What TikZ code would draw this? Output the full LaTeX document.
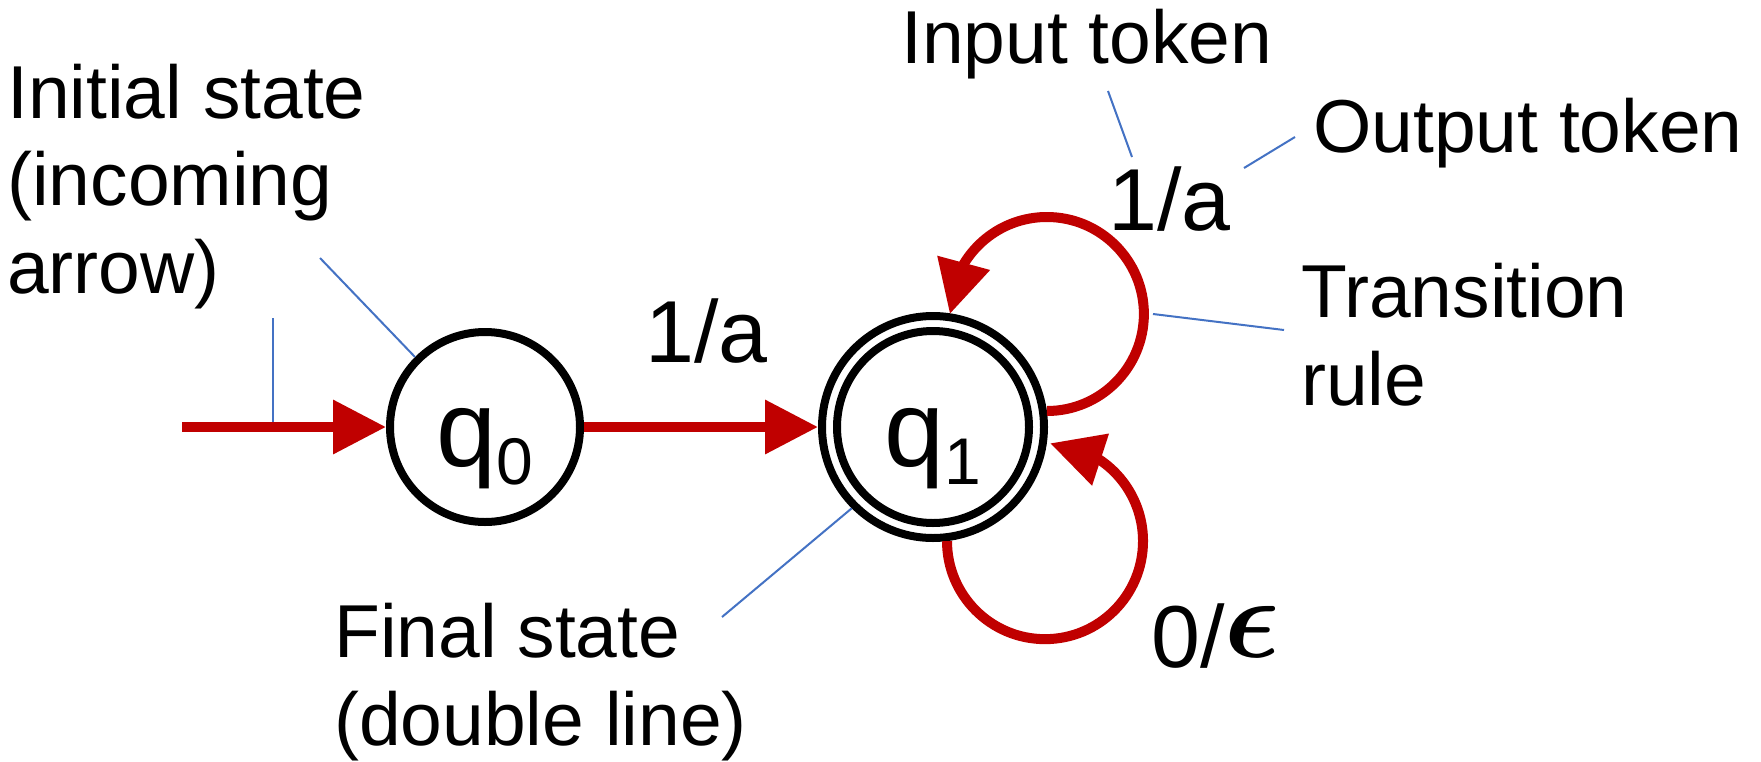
\documentclass[tikz,border=0pt]{standalone}
\usepackage{fontspec}
\usepackage{bm}
\setmainfont{Liberation Sans}
\usetikzlibrary{arrows.meta,bending}
\definecolor{arrowred}{RGB}{192,0,0}
\definecolor{calloutblue}{RGB}{68,114,196}

\begin{document}
\begin{tikzpicture}[x=1pt, y=-1pt,
  state/.style={circle, draw=black, line width=8pt, inner sep=0pt, outer sep=4pt,
    font=\fontsize{108}{108}\selectfont, text height=78pt, text depth=0pt},
  redarrow/.style={draw=arrowred, line width=10pt,
    -{Triangle[length=53pt, width=52pt, flex]}},
  callout/.style={draw=calloutblue, line width=2pt},
  note/.style={font=\fontsize{75}{87.5}\selectfont, align=left, anchor=base west, inner sep=0pt},
  rulelabel/.style={font=\fontsize{88}{100}\selectfont, anchor=base west, inner sep=0pt},
]
\fill[white] (0,0) rectangle (1761,761);
\useasboundingbox (0,0) rectangle (1761,761);

% callout leader lines
\coordinate (initArrowTop) at (273,318);
\coordinate (initArrowFoot) at (273,422);
\coordinate (initStateTop) at (320,258);
\coordinate (inTop) at (1108,91);
\coordinate (inFoot) at (1132,157);
\coordinate (outA) at (1244,168);
\coordinate (outB) at (1295,137);
\coordinate (transA) at (1153,314);
\coordinate (transB) at (1284,330);
\coordinate (finalA) at (722,617);

% states
\node[state, minimum size=190pt] (q0) at (485,427)
  {q\raisebox{-18pt}{\fontsize{66}{66}\selectfont 0}};
\node[state, minimum size=222pt] (q1) at (933,427)
  {q\raisebox{-18pt}{\fontsize{66}{66}\selectfont 1}};
\draw[line width=8pt] (q1.center) circle[radius=96pt];

\draw[callout] (initArrowTop) -- (initArrowFoot);
\draw[callout] (initStateTop) -- (q0.135);
\draw[callout] (inTop) -- (inFoot);
\draw[callout] (outA) -- (outB);
\draw[callout] (transA) -- (transB);
\draw[callout] (finalA) -- (q1.225);

% transitions
\coordinate (entry) at (182,427);
\draw[redarrow] (entry) -- (q0);
\draw[redarrow] (q0) -- (q1);
\draw[redarrow] (q1.8) arc[start angle=90, end angle=-180, radius=97];
\draw[redarrow] (q1.-83) arc[start angle=180, end angle=-87, radius=98];

% transition labels
\node[rulelabel] (lab01) at (645,362) {1/a};
\node[rulelabel] (lab11) at (1108,230) {1/a};
\node[rulelabel] (lab10) at (1151,667)
  {0/\raisebox{10pt}{\scalebox{11.5}{\fontsize{10}{12}\selectfont$\bm{\epsilon}$}}};

% annotations (a multi-line node sits on the baseline of its last line)
\node[note] (initnote) at (7,293) {Initial state\\(incoming\\arrow)};
\node[note] (innote) at (901,63) {Input token};
\node[note] (outnote) at (1313,152) {Output token};
\node[note] (transnote) at (1301,405) {Transition\\rule};
\node[note] (finalnote) at (334,745) {Final state\\(double line)};
\end{tikzpicture}
\end{document}
